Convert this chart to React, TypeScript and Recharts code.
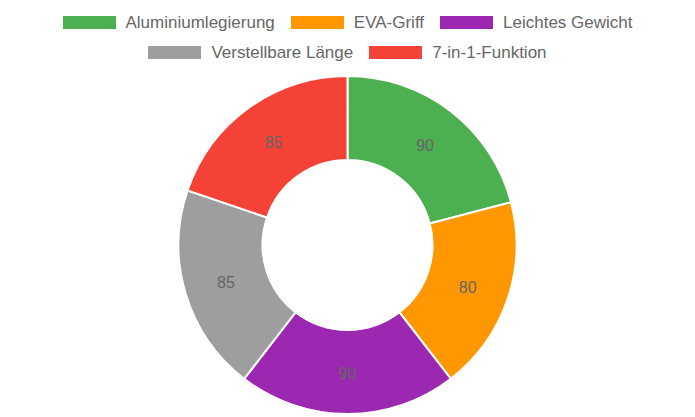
import { PieChart, Pie, Cell } from "recharts";

const features = ["Aluminiumlegierung", "EVA-Griff", "Leichtes Gewicht", "Verstellbare Länge", "7-in-1-Funktion"];
const scores = [90, 80, 90, 85, 85];
const colors = ["#4CAF50", "#FF9800", "#9C27B0", "#9E9E9E", "#F44336"];
const legendRows = [
    [0, 1, 2],
    [3, 4],
];

const data = features.map((name, i) => ({ name, value: scores[i] }));

const FONT = '"Liberation Sans", Arial, sans-serif';
const RAD = Math.PI / 180;

const renderLabel = (props: any) => {
    const { cx, cy, midAngle, innerRadius, outerRadius, value } = props;
    const r = (innerRadius + outerRadius) / 2;
    const x = cx + r * Math.cos(-midAngle * RAD);
    const y = cy + r * Math.sin(-midAngle * RAD) + 1;
    return (
        <text
            x={x}
            y={y}
            fill="#666"
            fontSize={16}
            fontFamily={FONT}
            textAnchor="middle"
            dominantBaseline="central"
        >
            {value}
        </text>
    );
};

const ChartLegend = () => (
    <div
        style={{
            position: "absolute",
            top: 7,
            left: 0,
            width: 695,
            fontFamily: FONT,
            fontSize: 17,
            color: "#666",
        }}
    >
        {legendRows.map((row, ri) => (
            <div
                key={ri}
                style={{ display: "flex", justifyContent: "center", alignItems: "center", height: 30, gap: 16 }}
            >
                {row.map((i) => (
                    <div key={i} style={{ display: "flex", alignItems: "center" }}>
                        <span
                            style={{
                                display: "inline-block",
                                width: 53,
                                height: 13,
                                background: colors[i],
                                marginRight: 10,
                            }}
                        />
                        <span style={{ lineHeight: "17px" }}>{features[i]}</span>
                    </div>
                ))}
            </div>
        ))}
    </div>
);

const App = () => {
    return (
        <div style={{ position: "absolute", left: 0, top: 0, width: 695, height: 417, background: "#fff" }}>
            <PieChart width={695} height={417} margin={{ top: 0, right: 0, bottom: 0, left: 0 }}>
                <Pie
                    data={data}
                    dataKey="value"
                    nameKey="name"
                    cx={347.5}
                    cy={245}
                    innerRadius={85}
                    outerRadius={169}
                    startAngle={90}
                    endAngle={-270}
                    stroke="#fff"
                    strokeWidth={2}
                    label={renderLabel}
                    labelLine={false}
                    isAnimationActive={false}
                >
                    {data.map((_, i) => (
                        <Cell key={`cell-${i}`} fill={colors[i]} />
                    ))}
                </Pie>
            </PieChart>
            <ChartLegend />
        </div>
    );
};

export default App;
